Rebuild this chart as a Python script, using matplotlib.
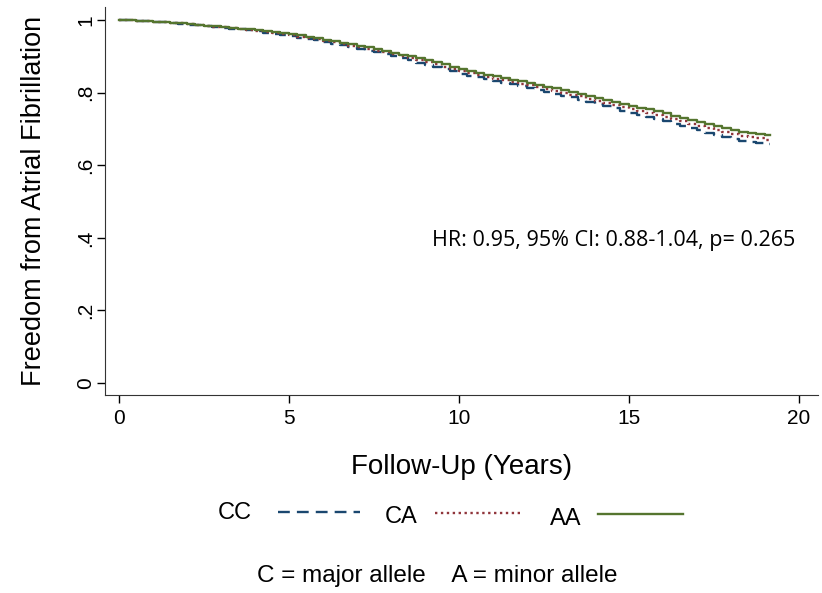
import numpy as np
import matplotlib
matplotlib.use("Agg")
from matplotlib import pyplot as plt
from matplotlib.lines import Line2D

plt.rcParams['font.family'] = ['Liberation Sans', 'DejaVu Sans']

# follow-up time (years) and survival estimates
years = [0, 0.25, 0.5, 0.75, 1, 1.25, 1.5, 1.75, 2, 2.25, 2.5, 2.75, 3, 3.25, 3.5, 3.75,
         4, 4.25, 4.5, 4.75, 5, 5.25, 5.5, 5.75, 6, 6.25, 6.5, 6.75, 7, 7.25, 7.5, 7.75,
         8, 8.25, 8.5, 8.75, 9, 9.25, 9.5, 9.75, 10, 10.25, 10.5, 10.75, 11, 11.25, 11.5, 11.75,
         12, 12.25, 12.5, 12.75, 13, 13.25, 13.5, 13.75, 14, 14.25, 14.5, 14.75,
         15, 15.25, 15.5, 15.75, 16, 16.25, 16.5, 16.75, 17, 17.25, 17.5, 17.75,
         18, 18.25, 18.5, 18.75, 19, 19.15]
surv_cc = [1.000, 1.000, 0.999, 0.998, 0.996, 0.994, 0.992, 0.990, 0.988, 0.986, 0.984, 0.982,
           0.979, 0.977, 0.975, 0.972, 0.969, 0.966, 0.963, 0.960, 0.956, 0.952, 0.948, 0.944,
           0.940, 0.935, 0.931, 0.926, 0.921, 0.916, 0.911, 0.906, 0.900, 0.895, 0.889, 0.883,
           0.877, 0.871, 0.865, 0.859, 0.853, 0.847, 0.842, 0.837, 0.832, 0.828, 0.823, 0.818,
           0.813, 0.807, 0.802, 0.797, 0.792, 0.787, 0.781, 0.775, 0.769, 0.763, 0.757, 0.751,
           0.745, 0.740, 0.734, 0.728, 0.722, 0.715, 0.709, 0.703, 0.697, 0.690, 0.684, 0.678,
           0.673, 0.668, 0.664, 0.661, 0.658, 0.658]
surv_ca = [1.000, 1.000, 0.999, 0.998, 0.996, 0.995, 0.993, 0.991, 0.989, 0.987, 0.985, 0.982,
           0.980, 0.978, 0.976, 0.974, 0.971, 0.968, 0.965, 0.962, 0.959, 0.955, 0.951, 0.947,
           0.943, 0.939, 0.935, 0.930, 0.925, 0.921, 0.916, 0.911, 0.906, 0.901, 0.895, 0.890,
           0.884, 0.878, 0.872, 0.866, 0.860, 0.854, 0.849, 0.844, 0.839, 0.835, 0.830, 0.825,
           0.820, 0.815, 0.810, 0.805, 0.800, 0.795, 0.790, 0.784, 0.778, 0.773, 0.767, 0.762,
           0.756, 0.751, 0.745, 0.740, 0.734, 0.727, 0.721, 0.715, 0.709, 0.703, 0.697, 0.691,
           0.686, 0.681, 0.677, 0.674, 0.671, 0.671]
surv_aa = [1.000, 1.000, 0.999, 0.998, 0.996, 0.995, 0.993, 0.991, 0.989, 0.987, 0.985, 0.983,
           0.981, 0.979, 0.977, 0.975, 0.972, 0.970, 0.967, 0.964, 0.961, 0.958, 0.954, 0.950,
           0.946, 0.942, 0.938, 0.934, 0.929, 0.925, 0.920, 0.915, 0.910, 0.905, 0.900, 0.895,
           0.889, 0.884, 0.878, 0.872, 0.866, 0.860, 0.855, 0.850, 0.845, 0.841, 0.836, 0.831,
           0.826, 0.821, 0.816, 0.812, 0.807, 0.802, 0.797, 0.792, 0.786, 0.781, 0.775, 0.770,
           0.764, 0.759, 0.754, 0.749, 0.743, 0.737, 0.731, 0.725, 0.719, 0.713, 0.707, 0.702,
           0.697, 0.692, 0.688, 0.685, 0.683, 0.683]

xticks = [0, 5, 10, 15, 20]
yticks = [0, 0.2, 0.4, 0.6, 0.8, 1]
ytick_labels = ["0", ".2", ".4", ".6", ".8", "1"]

c_cc = "#1a476f"
c_ca = "#90353b"
c_aa = "#55752f"

fig = plt.figure(figsize=(8.22, 5.93), dpi=100)
ax = fig.add_axes([0.1277, 0.334, 0.8673, 0.654])

ax.plot(years, surv_cc, drawstyle="steps-post", color=c_cc, lw=1.7, ls=(0, (5, 3)))
ax.plot(years, surv_ca, drawstyle="steps-post", color=c_ca, lw=1.7, ls=(0, (1, 1.5)))
ax.plot(years, surv_aa, drawstyle="steps-post", color=c_aa, lw=1.7)

ax.set_xlim(-0.41, 20.56)
ax.set_ylim(-0.033, 1.036)
ax.set_xticks(xticks)
ax.set_yticks(yticks)
ax.set_yticklabels(ytick_labels, rotation=90, va="center")
ax.tick_params(direction="out", length=6, width=1, labelsize=15)
ax.tick_params(axis="y", pad=1)
ax.tick_params(axis="x", pad=4)
for s in ["top", "right"]:
    ax.spines[s].set_visible(False)
for s in ["left", "bottom"]:
    ax.spines[s].set_color("#333333")

ax.set_xlabel("Follow-Up (Years)", fontsize=20, labelpad=19)
ax.set_ylabel("Freedom from Atrial Fibrillation", fontsize=19.5, labelpad=21)

fig.text(0.5255, 0.595, "HR: 0.95, 95% CI: 0.88-1.04, p= 0.265", fontsize=15.5,
         family=["Open Sans", "DejaVu Sans"], va="center", ha="left")

# manual legend row
fig.text(218 / 822, 1 - 513 / 593, "CC", fontsize=17, va="center")
fig.add_artist(Line2D([278 / 822, 360 / 822], [1 - 512 / 593] * 2, transform=fig.transFigure,
                      color=c_cc, lw=1.7, ls=(0, (5, 3))))
fig.text(385 / 822, 1 - 517 / 593, "CA", fontsize=17, va="center")
fig.add_artist(Line2D([435 / 822, 520 / 822], [1 - 513 / 593] * 2, transform=fig.transFigure,
                      color=c_ca, lw=1.7, ls=(0, (1, 1.5))))
fig.text(550 / 822, 1 - 519 / 593, "AA", fontsize=17, va="center")
fig.add_artist(Line2D([598 / 822, 683 / 822], [1 - 514 / 593] * 2, transform=fig.transFigure,
                      color=c_aa, lw=1.7))

fig.text(437 / 822, 1 - 576 / 593, "C = major allele    A = minor allele", fontsize=17.5,
         ha="center", va="center")

fig.savefig("out.png", dpi=100)
